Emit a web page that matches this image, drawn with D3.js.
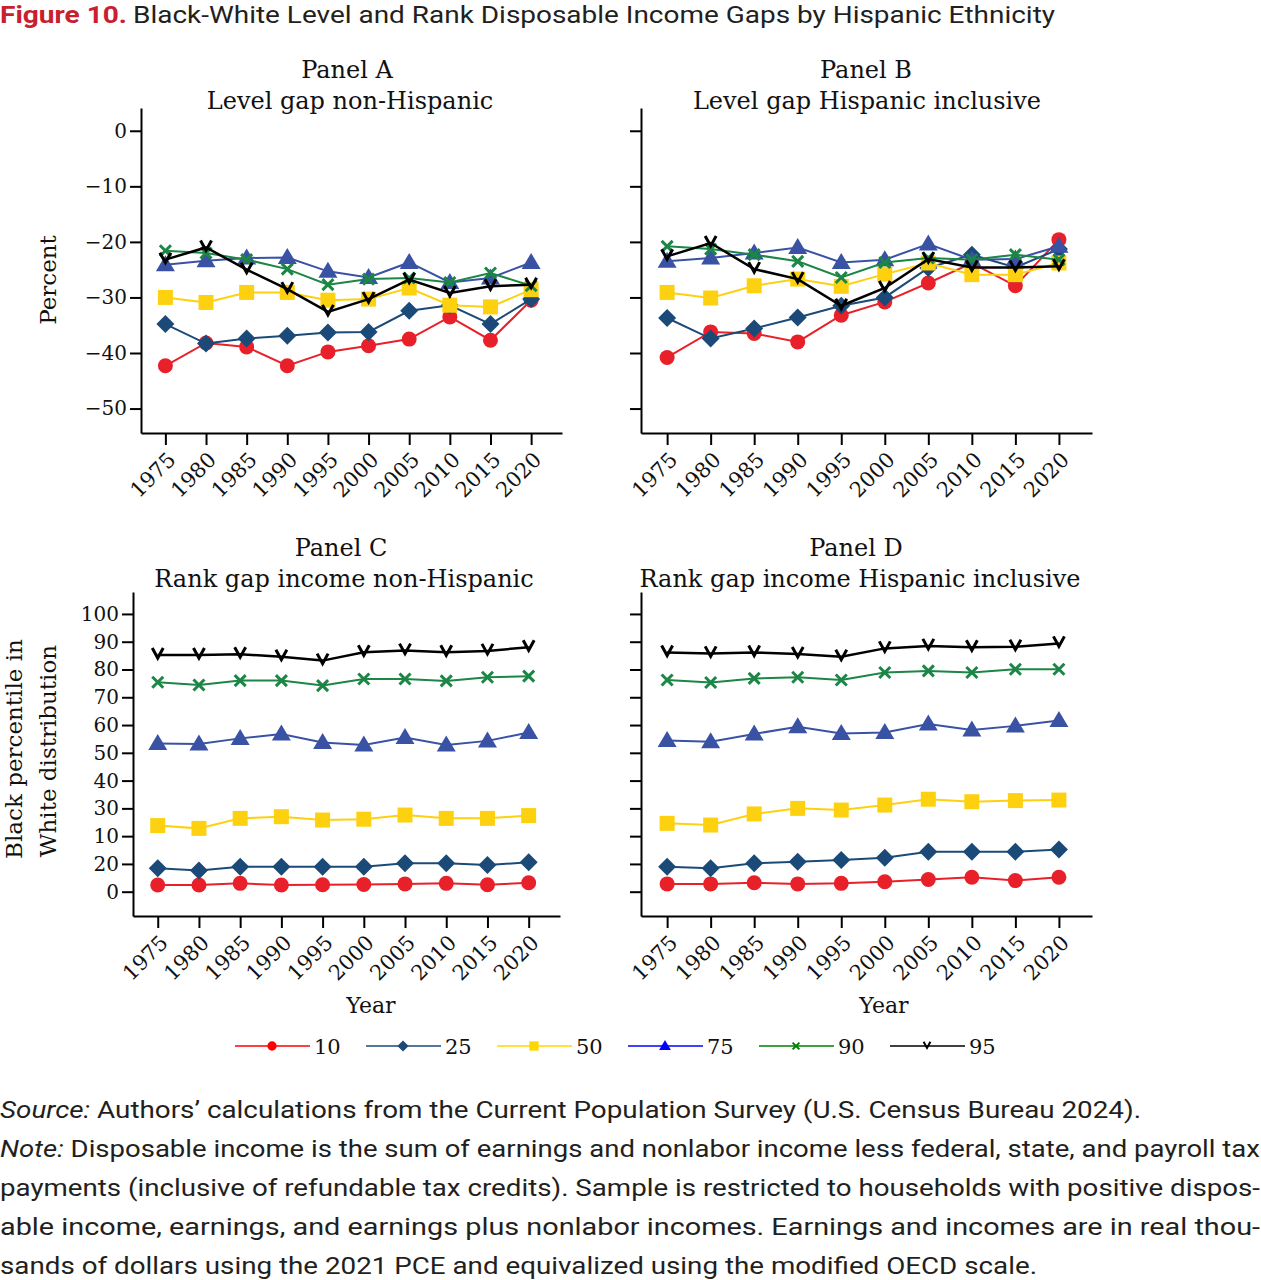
<!DOCTYPE html>
<html><head><meta charset="utf-8">
<script src="https://cdn.jsdelivr.net/npm/d3@7"></script>
<style>body{margin:0;background:#fff}svg{display:block}</style>
</head><body>
<svg id="c" width="1261" height="1280"></svg>
<script>
// ---------------- data ----------------
const years = [1975,1980,1985,1990,1995,2000,2005,2010,2015,2020];
const percentiles = ["10","25","50","75","90","95"];

// Panel A: Level gap non-Hispanic (percent)
const a10 = [-42.3,-38.2,-38.9,-42.3,-39.8,-38.7,-37.5,-33.5,-37.7,-30.5];
const a25 = [-34.8,-38.3,-37.4,-36.9,-36.3,-36.2,-32.4,-31.4,-34.8,-30.3];
const a50 = [-30.0,-30.9,-29.1,-29.1,-30.5,-30.3,-28.3,-31.4,-31.7,-28.6];
const a75 = [-24.1,-23.4,-22.9,-22.8,-25.3,-26.4,-23.7,-27.3,-26.5,-23.7];
const a90 = [-21.6,-22.0,-23.2,-24.9,-27.7,-26.7,-26.5,-27.3,-25.6,-27.9];
const a95 = [-23.2,-21.0,-25.0,-28.5,-32.6,-30.3,-26.8,-29.2,-28.0,-27.7];

// Panel B: Level gap Hispanic inclusive (percent)
const b10 = [-40.8,-36.2,-36.5,-38.0,-33.2,-30.8,-27.4,-23.8,-27.9,-19.6];
const b25 = [-33.7,-37.4,-35.6,-33.6,-31.5,-30.0,-24.7,-22.3,-24.6,-21.3];
const b50 = [-29.1,-30.1,-27.9,-26.7,-28.0,-25.8,-23.8,-25.9,-25.9,-23.8];
const b75 = [-23.5,-22.9,-22.0,-21.0,-23.7,-23.2,-20.4,-23.2,-23.1,-20.8];
const b90 = [-20.8,-21.3,-22.3,-23.5,-26.4,-23.7,-22.9,-23.2,-22.3,-23.2];
const b95 = [-22.6,-20.2,-24.9,-26.7,-31.5,-28.3,-23.1,-24.6,-24.6,-24.4];

// Panel C: Rank gap income non-Hispanic (Black percentile in White distribution)
const c10 = [2.4,2.4,3.0,2.4,2.5,2.6,2.8,3.0,2.5,3.2];
const c25 = [8.4,7.6,9.0,9.0,9.0,9.0,10.2,10.2,9.6,10.6];
const c50 = [23.8,22.8,26.4,27.0,25.8,26.1,27.6,26.4,26.4,27.4];
const c75 = [53.4,53.2,55.2,56.8,53.7,52.8,55.5,52.8,54.3,57.3];
const c90 = [75.4,74.4,76.0,76.0,74.2,76.6,76.6,75.9,77.2,77.6];
const c95 = [85.2,85.2,85.5,84.6,83.2,86.2,86.8,86.2,86.7,88.0];

// Panel D: Rank gap income Hispanic inclusive
const d10 = [2.8,2.8,3.2,2.8,3.0,3.6,4.4,5.2,4.0,5.2];
const d25 = [9.0,8.4,10.2,10.8,11.4,12.2,14.4,14.4,14.4,15.2];
const d50 = [24.6,24.0,28.0,30.0,29.4,31.2,33.3,32.4,32.8,33.0];
const d75 = [54.4,54.0,56.8,59.4,57.0,57.3,60.4,58.2,59.7,61.6];
const d90 = [76.2,75.3,76.8,77.2,76.2,78.9,79.5,78.9,80.1,80.1];
const d95 = [86.1,85.8,86.1,85.6,84.6,87.6,88.5,88.0,88.2,89.4];

// tick values and labels (labels as printed in the original)
const levelTicks = [0,-10,-20,-30,-40,-50];
const levelTickLabels = ["0","\u221210","\u221220","\u221230","\u221240","\u221250"];
const rankTicks = [100,90,80,70,60,50,40,30,20,10,0];
const rankTickLabels = ["100","90","80","70","60","50","40","30","10","20","0"];

const lineColors = ["#e8202a","#1b4a78","#fdd10f","#3a52a4","#1b8645","#000000"];
const legendColors = ["#ff0000","#1b4a78","#ffd700","#0000ff","#008000","#000000"];
const shapes = ["circle","diamond","square","triangle","x","v"];

// ---------------- drawing ----------------
const svg = d3.select("#c");
const SERIF = "DejaVu Serif";
const SANS = "Roboto";

function markerPath(shape, k) {
  const p = d3.path();
  switch (shape) {
    case "circle": p.arc(0,0,7.5*k,0,2*Math.PI); break;
    case "diamond": p.moveTo(0,-9*k); p.lineTo(9*k,0); p.lineTo(0,9*k); p.lineTo(-9*k,0); p.closePath(); break;
    case "square": p.rect(-7.5*k,-7.5*k,15*k,15*k); break;
    case "triangle": p.moveTo(0,-9.5*k); p.lineTo(9.5*k,6.5*k); p.lineTo(-9.5*k,6.5*k); p.closePath(); break;
    case "x": p.moveTo(-5.5*k,-5.5*k); p.lineTo(5.5*k,5.5*k); p.moveTo(-5.5*k,5.5*k); p.lineTo(5.5*k,-5.5*k); break;
    case "v": p.moveTo(-5.5*k,-7*k); p.lineTo(0,3*k); p.lineTo(5.5*k,-7*k); break;
  }
  return p.toString();
}
function drawMarker(g, shape, color, k) {
  const stroked = shape === "x" || shape === "v";
  return g.append("path").attr("d", markerPath(shape,k))
    .attr("fill", stroked ? "none" : color)
    .attr("stroke", stroked ? color : "none")
    .attr("stroke-width", stroked ? 3*Math.max(k,0.8) : 0);
}

const xDomain = [1972, 2023.8];

function drawPanel(cfg) {
  const x = d3.scaleLinear().domain(xDomain).range([cfg.left, cfg.right]);
  const y = d3.scaleLinear().domain(cfg.yDomain).range([cfg.bottom, cfg.top]);
  const g = svg.append("g");

  // titles
  g.append("text").attr("x", cfg.tx1).attr("y", cfg.ty).attr("text-anchor","middle")
    .attr("font-family",SERIF).attr("font-size",24).attr("fill","#111").text(cfg.title1);
  g.append("text").attr("x", cfg.tx2).attr("y", cfg.ty+31).attr("text-anchor","middle")
    .attr("font-family",SERIF).attr("font-size",24).attr("fill","#111").text(cfg.title2);

  // y axis
  const ya = d3.axisLeft(y).tickValues(cfg.ticks)
    .tickFormat((d,i) => cfg.tickLabels ? cfg.tickLabels[i] : "")
    .tickSize(11).tickSizeOuter(0).tickPadding(3);
  const yg = g.append("g").attr("transform",`translate(${cfg.left},0)`).call(ya);
  yg.selectAll("path,line").attr("stroke","#000").attr("stroke-width",2);
  yg.selectAll("text").attr("font-family",SERIF).attr("font-size",20).attr("fill","#111");

  // x axis
  const xa = d3.axisBottom(x).tickValues(years).tickFormat(d3.format("d"))
    .tickSize(12).tickSizeOuter(0);
  const xg = g.append("g").attr("transform",`translate(0,${cfg.bottom})`).call(xa);
  xg.selectAll("path,line").attr("stroke","#000").attr("stroke-width",2);
  xg.selectAll("text").attr("font-family",SERIF).attr("font-size",21).attr("fill","#111")
    .attr("x",0).attr("y",0).attr("dy",0).attr("text-anchor","end")
    .attr("transform","translate(11,28) rotate(-45)");

  // series
  cfg.series.forEach((vals, si) => {
    const data = years.map((yr,i) => ({yr, v: vals[i]}));
    const line = d3.line().x(d => x(d.yr)).y(d => y(d.v));
    g.append("path").datum(data).attr("d", line).attr("fill","none")
      .attr("stroke", lineColors[si]).attr("stroke-width", si === 5 ? 2.5 : 2);
    data.forEach(d => {
      drawMarker(g, shapes[si], lineColors[si], 1)
        .attr("transform", `translate(${x(d.yr)},${y(d.v)})`);
    });
  });
}

const levelDomain = [-54.4, 4.1];
const rankDomain = [-8.75, 107.9];

drawPanel({left:141, right:562, top:108, bottom:433, yDomain:levelDomain,
  ticks:levelTicks, tickLabels:levelTickLabels, title1:"Panel A", title2:"Level gap non-Hispanic",
  tx1:347, tx2:350, ty:78, series:[a10,a25,a50,a75,a90,a95]});
drawPanel({left:641, right:1092, top:108, bottom:433, yDomain:levelDomain,
  ticks:levelTicks, tickLabels:null, title1:"Panel B", title2:"Level gap Hispanic inclusive",
  tx1:866, tx2:867, ty:78, series:[b10,b25,b50,b75,b90,b95]});
drawPanel({left:133, right:560, top:592, bottom:916, yDomain:rankDomain,
  ticks:rankTicks, tickLabels:rankTickLabels, title1:"Panel C", title2:"Rank gap income non-Hispanic",
  tx1:341, tx2:344, ty:556, series:[c10,c25,c50,c75,c90,c95]});
drawPanel({left:641, right:1092, top:592, bottom:916, yDomain:rankDomain,
  ticks:rankTicks, tickLabels:null, title1:"Panel D", title2:"Rank gap income Hispanic inclusive",
  tx1:856, tx2:860, ty:556, series:[d10,d25,d50,d75,d90,d95]});

// axis titles
svg.append("text").attr("transform","translate(56,280) rotate(-90)").attr("text-anchor","middle")
  .attr("font-family",SERIF).attr("font-size",23).attr("fill","#111").text("Percent");
svg.append("text").attr("transform","translate(22,749) rotate(-90)").attr("text-anchor","middle")
  .attr("font-family",SERIF).attr("font-size",23).attr("fill","#111").text("Black percentile in");
svg.append("text").attr("transform","translate(56,751) rotate(-90)").attr("text-anchor","middle")
  .attr("font-family",SERIF).attr("font-size",23).attr("fill","#111").text("White distribution");
svg.append("text").attr("x",371).attr("y",1013).attr("text-anchor","middle")
  .attr("font-family",SERIF).attr("font-size",22).attr("fill","#111").text("Year");
svg.append("text").attr("x",884).attr("y",1013).attr("text-anchor","middle")
  .attr("font-family",SERIF).attr("font-size",22).attr("fill","#111").text("Year");

// legend
const lx = d3.scaleLinear().domain([0,5]).range([235, 890]);
percentiles.forEach((p, i) => {
  const x0 = lx(i), yL = 1046;
  const lg = svg.append("g");
  lg.append("line").attr("x1",x0).attr("x2",x0+75).attr("y1",yL).attr("y2",yL)
    .attr("stroke",legendColors[i]).attr("stroke-width",1.6);
  drawMarker(lg, shapes[i], legendColors[i], 0.62).attr("transform",`translate(${x0+37},${yL})`)
    .attr("stroke-width", (shapes[i]==="x"||shapes[i]==="v") ? 2 : 0);
  lg.append("text").attr("x",x0+79).attr("y",yL+8).attr("font-family",SERIF).attr("font-size",21)
    .attr("fill","#111").text(p);
});

// header
svg.append("text").attr("x",0).attr("y",23).attr("font-family",SANS).attr("font-weight",700)
  .attr("font-size",24).attr("fill","#c8202f").attr("textLength",127).attr("lengthAdjust","spacingAndGlyphs")
  .text("Figure 10.");
svg.append("text").attr("x",133).attr("y",23).attr("font-family",SANS).attr("font-weight",400)
  .attr("font-size",24).attr("fill","#231f20").attr("textLength",922).attr("lengthAdjust","spacingAndGlyphs")
  .text("Black-White Level and Rank Disposable Income Gaps by Hispanic Ethnicity");

// source / note
const noteLines = [
  {it:"Source:", rest:" Authors\u2019 calculations from the Current Population Survey (U.S. Census Bureau 2024).", w:1141},
  {it:"Note:", rest:" Disposable income is the sum of earnings and nonlabor income less federal, state, and payroll tax", w:1260},
  {it:"", rest:"payments (inclusive of refundable tax credits). Sample is restricted to households with positive dispos-", w:1260},
  {it:"", rest:"able income, earnings, and earnings plus nonlabor incomes. Earnings and incomes are in real thou-", w:1260},
  {it:"", rest:"sands of dollars using the 2021 PCE and equivalized using the modified OECD scale.", w:1037}
];
noteLines.forEach((ln, i) => {
  const t = svg.append("text").attr("x",0).attr("y",1118 + i*39).attr("font-family",SANS)
    .attr("font-size",23).attr("fill","#231f20")
    .attr("textLength",ln.w).attr("lengthAdjust","spacingAndGlyphs");
  if (ln.it) t.append("tspan").attr("font-style","italic").text(ln.it);
  t.append("tspan").text(ln.rest);
});
</script>
</body></html>
